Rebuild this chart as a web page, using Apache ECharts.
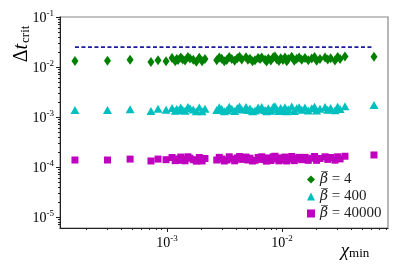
<!DOCTYPE html>
<html><head><meta charset="utf-8">
<script src="https://cdn.jsdelivr.net/npm/echarts@6/dist/echarts.min.js"></script>
<style>html,body{margin:0;padding:0;background:#fff}#c{width:399px;height:266px}</style>
</head><body><div id="c"></div>
<script>
// chi_min values (x)
const chiMin = [
  1.585e-4, 3.04e-4, 4.78e-4, 7.26e-4, 8.36e-4, 9.82e-4,
  1.107e-3, 1.18e-3, 1.216e-3, 1.25e-3, 1.318e-3, 1.37e-3, 1.436e-3, 1.52e-3, 1.586e-3, 1.694e-3, 1.80e-3, 1.91e-3, 2.02e-3, 2.14e-3,
  2.71e-3, 2.85e-3, 2.99e-3, 3.15e-3, 3.31e-3, 3.48e-3, 3.66e-3, 3.88e-3, 4.09e-3, 4.28e-3, 4.47e-3, 4.87e-3, 5.05e-3, 5.27e-3, 5.55e-3, 5.83e-3, 6.2e-3,
  6.45e-3, 6.67e-3, 7.13e-3, 7.35e-3, 7.61e-3, 8.0e-3, 8.41e-3, 8.7e-3, 9.0e-3, 9.4e-3, 9.75e-3,
  1.02e-2, 1.062e-2, 1.10e-2, 1.135e-2, 1.215e-2, 1.28e-2, 1.344e-2, 1.41e-2, 1.485e-2, 1.585e-2, 1.694e-2, 1.815e-2, 1.92e-2,
  2.0e-2, 2.14e-2, 2.37e-2, 2.5e-2, 2.65e-2, 2.89e-2, 3.05e-2, 3.2e-2, 3.53e-2, 6.31e-2
];
// Delta t_crit for beta = 4 (x1e-2)
const dtBeta4 = [
  1.32,1.33,1.40,1.26,1.37,1.31,
  1.52,1.30,1.45,1.38,1.55,1.42,1.35,1.58,1.48,1.40,1.28,1.53,1.30,1.45,
  1.36,1.55,1.47,1.30,1.38,1.58,1.44,1.33,1.50,1.60,1.42,1.56,1.39,1.46,1.30,1.36,1.52,
  1.44,1.55,1.40,1.29,1.48,1.35,1.57,1.62,1.43,1.32,1.50,
  1.38,1.55,1.30,1.45,1.60,1.34,1.47,1.55,1.40,1.52,1.36,1.48,1.58,
  1.33,1.45,1.55,1.42,1.50,1.35,1.58,1.44,1.62,1.60
].map(v => v * 1e-2);
// beta = 400 (x1e-3)
const dtBeta400 = [
  1.38,1.38,1.43,1.32,1.47,1.40,
  1.52,1.33,1.44,1.36,1.55,1.40,1.33,1.58,1.50,1.42,1.30,1.55,1.30,1.47,
  1.38,1.57,1.45,1.31,1.36,1.60,1.46,1.32,1.52,1.62,1.41,1.58,1.38,1.48,1.31,1.35,1.55,
  1.42,1.58,1.38,1.30,1.50,1.33,1.60,1.64,1.45,1.32,1.52,
  1.37,1.57,1.31,1.43,1.62,1.32,1.50,1.56,1.40,1.55,1.35,1.50,1.60,
  1.35,1.47,1.58,1.40,1.52,1.36,1.60,1.44,1.65,1.74
].map(v => v * 1e-3);
// beta = 40000 (x1e-4)
const dtBeta40000 = [
  1.38,1.38,1.44,1.32,1.44,1.40,
  1.55,1.34,1.45,1.36,1.58,1.42,1.33,1.60,1.50,1.40,1.31,1.55,1.32,1.48,
  1.38,1.56,1.45,1.32,1.38,1.60,1.45,1.33,1.52,1.62,1.42,1.58,1.38,1.50,1.32,1.36,1.55,
  1.42,1.60,1.40,1.31,1.52,1.35,1.60,1.64,1.45,1.33,1.52,
  1.38,1.58,1.32,1.44,1.62,1.34,1.50,1.56,1.40,1.56,1.36,1.50,1.62,
  1.36,1.48,1.60,1.42,1.55,1.37,1.60,1.45,1.64,1.74
].map(v => v * 1e-4);
// dashed reference line
const dashX = [1.585e-4, 6.31e-2];
const dashY = 0.025;
const betaLabels = ['4', '400', '40000'];
// tick labels (powers of ten)
const xTickExps = [-3, -2];
const yTickExps = [-5, -4, -3, -2, -1];

const X_MIN = -3.93, X_MAX = -1.078, Y_MIN = -5.22, Y_MAX = -1;
const SERIF = '"Liberation Serif","DejaVu Serif",serif';
const lg = v => Math.log10(v);
function minorLogs(e0, e1) { const a = []; for (let e = e0; e < e1; e++) for (let k = 2; k <= 9; k++) a.push(e + Math.log10(k)); return a; }
const tickRich = {
  b: { fontFamily: SERIF, fontSize: 14, color: '#000', lineHeight: 16, verticalAlign: 'bottom' },
  s: { fontFamily: SERIF, fontSize: 9, color: '#000', lineHeight: 16, verticalAlign: 'top' }
};
const powFmt = v => '{b|10}{s|' + Math.round(v) + '}';
const pair = ys => chiMin.map((x, i) => [lg(x), lg(ys[i])]);

const chart = echarts.init(document.getElementById('c'), null, { renderer: 'canvas' });
chart.setOption({
  animation: false,
  backgroundColor: '#fff',
  grid: { left: 60, right: 11, top: 17, bottom: 38, show: true, borderColor: '#888', borderWidth: 1.2, backgroundColor: 'transparent' },
  xAxis: [
    { type: 'value', min: X_MIN, max: X_MAX, position: 'bottom', splitLine: { show: false },
      axisLine: { show: true, lineStyle: { color: '#222', width: 1 } },
      axisTick: { show: true, length: 4, customValues: xTickExps, lineStyle: { color: '#222' } },
      axisLabel: { customValues: xTickExps, formatter: powFmt, rich: tickRich, margin: 6 } },
    { type: 'value', min: X_MIN, max: X_MAX, position: 'bottom', splitLine: { show: false },
      axisLine: { show: false }, axisLabel: { show: false },
      axisTick: { show: true, length: 2, customValues: minorLogs(-4, -1), lineStyle: { color: '#222' } } }
  ],
  yAxis: [
    { type: 'value', min: Y_MIN, max: Y_MAX, position: 'left', splitLine: { show: false },
      axisLine: { show: true, lineStyle: { color: '#222', width: 1 } },
      axisTick: { show: true, length: 4, customValues: yTickExps, lineStyle: { color: '#222' } },
      axisLabel: { customValues: yTickExps, formatter: powFmt, rich: tickRich, margin: 6 } },
    { type: 'value', min: Y_MIN, max: Y_MAX, position: 'left', splitLine: { show: false },
      axisLine: { show: false }, axisLabel: { show: false },
      axisTick: { show: true, length: 2, customValues: minorLogs(-6, -1), lineStyle: { color: '#222' } } }
  ],
  legend: {
    data: betaLabels, orient: 'vertical', left: 302, top: 167, itemWidth: 8, itemHeight: 8, itemGap: 2,
    formatter: n => '{g|β\u0305}{t| = ' + n + '}',
    textStyle: { rich: {
      g: { fontFamily: '"DejaVu Serif",serif', fontStyle: 'italic', fontSize: 14, color: '#222', lineHeight: 17 },
      t: { fontFamily: SERIF, fontSize: 15, color: '#222', lineHeight: 17 } } }
  },
  series: [
    { name: 'dash', type: 'line', xAxisIndex: 0, yAxisIndex: 0, symbol: 'none', silent: true,
      data: [[lg(dashX[0]), lg(dashY)], [lg(dashX[1]), lg(dashY)]],
      lineStyle: { color: '#1a1aa0', width: 1.8, type: [4, 2.5] }, z: 3 },
    { name: betaLabels[0], type: 'scatter', xAxisIndex: 0, yAxisIndex: 0, symbol: 'diamond', symbolSize: [7, 10],
      itemStyle: { color: '#008000', opacity: 1 }, data: pair(dtBeta4) },
    { name: betaLabels[1], type: 'scatter', xAxisIndex: 0, yAxisIndex: 0, symbol: 'triangle', symbolSize: [9, 8],
      itemStyle: { color: '#00bfbf', opacity: 1 }, data: pair(dtBeta400) },
    { name: betaLabels[2], type: 'scatter', xAxisIndex: 0, yAxisIndex: 0, symbol: 'rect', symbolSize: 7,
      itemStyle: { color: '#bf00bf', opacity: 1 }, data: pair(dtBeta40000) }
  ],
  graphic: [
    { type: 'text', x: 21, y: 44, rotation: Math.PI / 2,
      style: { text: '{d|Δ}{t|t}{c|crit}', align: 'center', verticalAlign: 'middle',
        rich: {
          d: { fontFamily: SERIF, fontSize: 20, color: '#000', lineHeight: 22, verticalAlign: 'bottom' },
          t: { fontFamily: SERIF, fontStyle: 'italic', fontSize: 20, color: '#000', lineHeight: 22, verticalAlign: 'bottom' },
          c: { fontFamily: SERIF, fontSize: 13, color: '#000', lineHeight: 22, verticalAlign: 'bottom', padding: [4, 0, 0, 1] } } } },
    { type: 'text', x: 355, y: 249,
      style: { text: '{c|χ}{m|min}', align: 'center', verticalAlign: 'middle',
        rich: {
          c: { fontFamily: SERIF, fontStyle: 'italic', fontSize: 19, color: '#000', lineHeight: 22, verticalAlign: 'bottom' },
          m: { fontFamily: SERIF, fontSize: 13, color: '#000', lineHeight: 22, verticalAlign: 'bottom', padding: [4, 0, 0, 0] } } } }
  ]
});
</script></body></html>
